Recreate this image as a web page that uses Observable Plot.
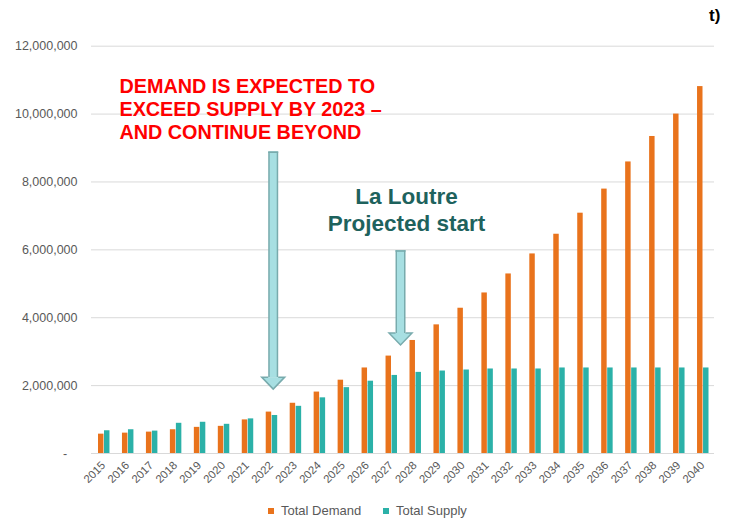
<!DOCTYPE html>
<html>
<head>
<meta charset="utf-8">
<script src="https://cdn.jsdelivr.net/npm/d3@7"></script>
<script src="https://cdn.jsdelivr.net/npm/@observablehq/plot@0.6"></script>
<style>
  html, body { margin: 0; padding: 0; background: #fff; }
  body { width: 733px; height: 521px; overflow: hidden; font-family: "Liberation Sans", Arial, sans-serif; }
  #title { position: relative; height: 30px; }
  #title span { position: absolute; left: 709px; top: 6px; font-size: 17px; line-height: 20px; font-weight: bold; color: #000; }
  #chart svg { display: block; color: #595959; }
  #chart [aria-label^="y-axis"] { font-size: 12.5px; }
  #chart [aria-label^="x-axis"] { font-size: 11.3px; }
  #legend { position: relative; height: 26px; font-size: 13px; color: #595959; }
  #legend .sw { position: absolute; top: 12.5px; width: 6px; height: 6px; }
  #legend .lb { position: absolute; top: 8px; line-height: 15px; }
</style>
</head>
<body>
<div id="title"><span>t)</span></div>
<div id="chart"></div>
<div id="legend"></div>
<script>
// ---- data ----
const years = ["2015","2016","2017","2018","2019","2020","2021","2022","2023","2024","2025","2026","2027",
               "2028","2029","2030","2031","2032","2033","2034","2035","2036","2037","2038","2039","2040"];
const totalDemand = [570000, 600000, 630000, 700000, 770000, 800000, 990000, 1220000, 1480000, 1810000,
                     2160000, 2520000, 2870000, 3330000, 3790000, 4280000, 4730000, 5290000, 5880000, 6460000,
                     7080000, 7790000, 8590000, 9340000, 10000000, 10810000];
const totalSupply = [670000, 700000, 660000, 890000, 920000, 860000, 1020000, 1120000, 1390000, 1640000,
                     1940000, 2130000, 2300000, 2390000, 2430000, 2460000, 2490000, 2490000, 2490000, 2520000,
                     2520000, 2520000, 2520000, 2520000, 2520000, 2520000];
const seriesNames = ["Total Demand", "Total Supply"];
const yTicks = [0, 2000000, 4000000, 6000000, 8000000, 10000000, 12000000];

// annotations
const redNote = "DEMAND IS EXPECTED TO\nEXCEED SUPPLY BY 2023 \u2013\nAND CONTINUE BEYOND";
const redNoteYear = "2016";
const redNoteValue = 10160000;
const greenNote = "La Loutre\nProjected start";
const greenNoteYear = "2028";
const greenNoteValue = 7220000;
const arrowYears = ["2022", "2027"];
const arrowTop = [8900000, 5990000];
const arrowBase = [2250000, 3550000];

// ---- styles ----
const demandColor = "#E9731C";
const supplyColor = "#2BB1A8";
const arrowLine = "#78abad";
const arrowFill = "#a7dfe2";
const arrowDx = [2, 9.5];

const rows = years.map((y, i) => ({year: y, demand: totalDemand[i], supply: totalSupply[i]}));
const arrows = arrowYears.map((y, i) => ({year: y, top: arrowTop[i], base: arrowBase[i], dx: arrowDx[i]}));

const headSymbol = {
  draw(ctx) {
    ctx.moveTo(-5, 0);
    ctx.lineTo(-11.5, 0);
    ctx.lineTo(0, 12);
    ctx.lineTo(11.5, 0);
    ctx.lineTo(5, 0);
  }
};
const capSymbol = { draw(ctx) { ctx.rect(-5, 0, 10, 1.6); } };

const arrowMarks = arrows.flatMap(a => [
  Plot.link([a], {x1: "year", x2: "year", y1: "top", y2: "base", stroke: arrowLine, strokeWidth: 10, dx: a.dx}),
  Plot.link([a], {x1: "year", x2: "year", y1: "top", y2: "base", stroke: arrowFill, strokeWidth: 7, dx: a.dx}),
  Plot.dot([a], {x: "year", y: "base", symbol: headSymbol, fill: arrowFill, stroke: arrowLine, strokeWidth: 1.5, dx: a.dx}),
  Plot.dot([a], {x: "year", y: "top", symbol: capSymbol, fill: arrowLine, stroke: "none", dx: a.dx})
]);

const chart = Plot.plot({
  width: 733,
  height: 465,
  marginLeft: 91,
  marginRight: 19,
  marginTop: 15.7,
  marginBottom: 42,
  style: {fontFamily: "'Liberation Sans', Arial, sans-serif", background: "#fff"},
  x: {domain: years, padding: 0, round: false, tickSize: 0, tickPadding: 10, tickRotate: -45, label: null},
  y: {domain: [0, 12000000], ticks: yTicks, tickSize: 0, tickPadding: 14, label: null,
      tickFormat: d => d === 0 ? "-\u00a0\u00a0\u00a0" : d3.format(",")(d)},
  marks: [
    Plot.ruleY(yTicks, {stroke: "#d9d9d9", strokeWidth: 1}),
    Plot.barY(rows, {x: "year", y: "demand", fill: demandColor, insetLeft: 7, insetRight: 11.5}),
    Plot.barY(rows, {x: "year", y: "supply", fill: supplyColor, insetLeft: 13, insetRight: 5.5}),
    ...arrowMarks,
    Plot.text([redNote], {x: () => redNoteYear, y: () => redNoteValue, text: d => d, textAnchor: "start",
      dx: -8, fill: "#FF0000", fontWeight: "bold", fontSize: 19.8, lineHeight: 1.18, lineAnchor: "middle"}),
    Plot.text([greenNote], {x: () => greenNoteYear, y: () => greenNoteValue, text: d => d, textAnchor: "middle",
      dx: -8.5, fill: "#1e625d", fontWeight: "bold", fontSize: 22.5, lineHeight: 1.2, lineAnchor: "middle"})
  ]
});
document.getElementById("chart").appendChild(chart);

// legend
const legend = document.getElementById("legend");
const legendColors = [demandColor, supplyColor];
const swatchX = [268, 383];
seriesNames.forEach((name, i) => {
  const sw = document.createElement("div");
  sw.className = "sw";
  sw.style.left = swatchX[i] + "px";
  sw.style.background = legendColors[i];
  legend.appendChild(sw);
  const lb = document.createElement("div");
  lb.className = "lb";
  lb.style.left = (swatchX[i] + 13) + "px";
  lb.textContent = name;
  legend.appendChild(lb);
});
</script>
</body>
</html>
